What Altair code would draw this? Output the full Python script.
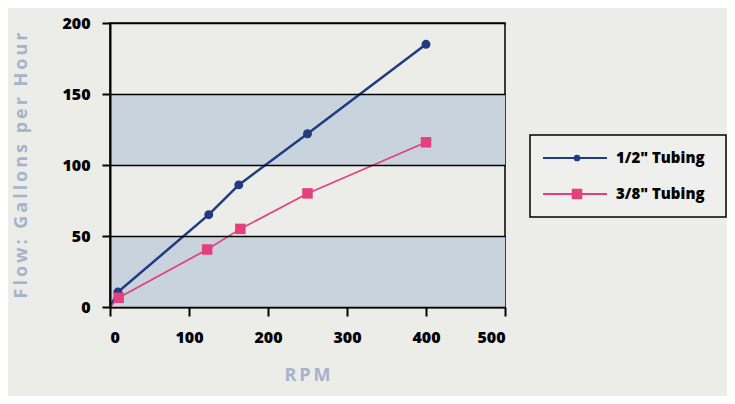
import altair as alt
import pandas as pd

# data
rpm_half = [0, 10, 125, 163, 250, 400]
gph_half = [0, 10.5, 65, 86, 122, 185]
rpm_38 = [0, 11, 123, 165, 250, 400]
gph_38 = [0, 6.5, 40.5, 55, 80, 116]
series = ['1/2" Tubing', '3/8" Tubing']
band_lo = [0, 100]
band_hi = [50, 150]
x_ticks = [0, 100, 200, 300, 400, 500]
y_ticks = [0, 50, 100, 150, 200]

BLUE = "#1f3b82"
PINK = "#e5407c"
FONT = "Open Sans"
TS = "\u2009"

rows = []
for s, xs, ys in [(series[0], rpm_half, gph_half), (series[1], rpm_38, gph_38)]:
    for i, (a, b) in enumerate(zip(xs, ys)):
        rows.append({"series": s, "rpm": a, "gph": b, "marker": i > 0})
df = pd.DataFrame(rows)
bands = pd.DataFrame({"gph": band_lo, "gph2": band_hi})

xscale = alt.Scale(domain=[0, 500], nice=False)
yscale = alt.Scale(domain=[0, 200], nice=False)
cscale = alt.Scale(domain=series, range=[BLUE, PINK])
shscale = alt.Scale(domain=series, range=["circle", "square"])

ytitle = TS.join("Flow: Gallons per Hour")
xtitle = TS.join("RPM")

xaxis = alt.Axis(values=x_ticks, title=xtitle, grid=False, tickSize=9,
                 labelPadding=13, titleX=197, titleY=68, titleBaseline="middle")
yaxis = alt.Axis(values=y_ticks, title=ytitle, grid=True, tickSize=8,
                 labelPadding=12, titleX=-89, titleY=142, titleBaseline="middle",
                 zindex=1)

band_layer = alt.Chart(bands).mark_rect(color="#c9d3dd").encode(
    y=alt.Y("gph:Q", scale=yscale, axis=yaxis),
    y2="gph2:Q",
    x=alt.value(0),
    x2=alt.value(395),
)

base = alt.Chart(df)

lines = base.mark_line().encode(
    x=alt.X("rpm:Q", scale=xscale, axis=xaxis),
    y=alt.Y("gph:Q", scale=yscale, axis=yaxis),
    color=alt.Color("series:N", scale=cscale, legend=None),
    strokeWidth=alt.StrokeWidth("series:N", scale=alt.Scale(domain=series, range=[2.5, 1.7]), legend=None),
)

pts = base.transform_filter("datum.marker").mark_point(filled=True, opacity=1).encode(
    x=alt.X("rpm:Q", scale=xscale, axis=xaxis),
    y=alt.Y("gph:Q", scale=yscale, axis=yaxis),
    color=alt.Color("series:N", scale=cscale, legend=None),
    shape=alt.Shape("series:N", scale=shscale, legend=None),
    size=alt.Size("series:N", scale=alt.Scale(domain=series, range=[80, 110]), legend=None),
)

# manual legend (drawn outside the plot area)
leg_layers = [
    alt.Chart(pd.DataFrame({"k": [0]})).mark_rect(
        fill="#efefed", stroke="black", strokeWidth=1.5
    ).encode(x=alt.value(420), x2=alt.value(616), y=alt.value(112), y2=alt.value(194))
]
leg_rows = [135, 171]
leg_sizes = [45, 110]
for s, yy, sz in zip(series, leg_rows, leg_sizes):
    one = pd.DataFrame({"series": [s]})
    c = alt.Color("series:N", scale=cscale, legend=None)
    leg_layers.append(alt.Chart(one).mark_rule(strokeWidth=2).encode(
        x=alt.value(433), x2=alt.value(497), y=alt.value(yy), color=c))
    leg_layers.append(alt.Chart(one).mark_point(filled=True, opacity=1, size=sz).encode(
        x=alt.value(467), y=alt.value(yy), color=c,
        shape=alt.Shape("series:N", scale=shscale, legend=None)))
    leg_layers.append(alt.Chart(one).mark_text(
        align="left", baseline="middle", font=FONT, fontWeight=800, fontSize=15, color="black"
    ).encode(x=alt.value(506), y=alt.value(yy), text="series:N"))

chart = alt.layer(band_layer, lines, pts, *leg_layers).properties(
    width=395, height=284,
    autosize=alt.AutoSizeParams(type="none"),
    padding={"left": 102, "top": 15, "right": 222, "bottom": 89},
    background="#ecece9",
).configure_view(
    stroke="black", strokeWidth=1.5
).configure_axis(
    domainColor="black", domainWidth=2, tickColor="black", tickWidth=2,
    gridColor="black", gridWidth=1.5, gridOpacity=1,
    labelFont=FONT, labelFontWeight=800, labelFontSize=16, labelColor="black",
    titleFont=FONT, titleFontWeight="bold", titleColor="#a6b3cb", titleFontSize=18,
)

chart.save("out.html", embed_options={"renderer": "svg", "actions": False})
